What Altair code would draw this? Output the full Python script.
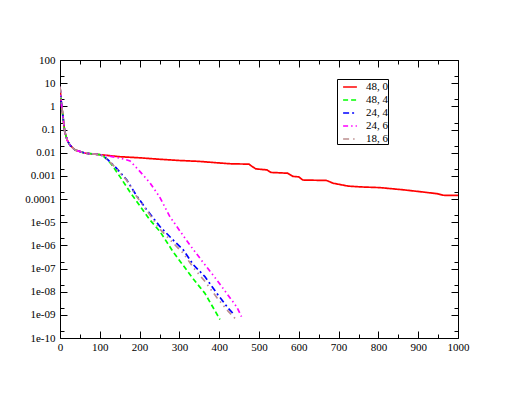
import altair as alt
import pandas as pd

series_names = ["48, 0", "48, 4", "24, 4", "24, 6", "18, 6"]
series_colors = ["#ff0000", "#00ff00", "#0000ff", "#ff00ff", "#bc8f8f"]
series_dashes = [[1, 0], [5, 3], [6, 3, 2, 3], [5, 3, 1.5, 3, 1.5, 3], [6, 4, 1.5, 4, 1.5, 4]]

# common initial part (all runs)
common_x = [0, 4, 8, 12, 18, 25, 38, 63, 100]
common_y = [7, 1.1, 0.3, 0.08, 0.035, 0.021, 0.013, 0.0095, 0.0082]

red_x = [150, 200, 250, 300, 350, 400, 430, 475, 483, 492, 520, 530, 572, 585, 600, 610, 670,
         686, 724, 760, 804, 862, 912, 947, 963, 1000]
red_y = [0.0067, 0.006, 0.0052, 0.0046, 0.0042, 0.0036, 0.0033, 0.0032, 0.0025, 0.002, 0.0018,
         0.0014, 0.0013, 0.00095, 0.0009, 0.00066, 0.00063, 0.00048, 0.00036, 0.00033, 0.00031,
         0.00025, 0.0002, 0.00017, 0.000145, 0.000142]

green_x = [110, 120, 130, 140, 151, 175, 201, 225, 251, 285, 318, 335, 364, 402]
green_y = [6.8e-3, 4.8e-3, 3.0e-3, 1.7e-3, 9e-4, 2.1e-4, 5e-5, 1.3e-5, 4e-6, 5e-7, 8.7e-8,
           3.5e-8, 8.5e-9, 6.3e-10]

blue_x = [110, 120, 140, 168, 190, 218, 251, 280, 310, 335, 364, 394, 423, 436]
blue_y = [7e-3, 5e-3, 2.3e-3, 6.6e-4, 1.6e-4, 3.4e-5, 6.5e-6, 2e-6, 6.3e-7, 1.45e-7, 4.5e-8,
          8.5e-9, 1.9e-9, 1.1e-9]

magenta_x = [130, 151, 165, 176, 200, 226, 250, 276, 302, 327, 360, 394, 420, 444, 456]
magenta_y = [6.8e-3, 5.8e-3, 5e-3, 4.4e-3, 1.6e-3, 5e-4, 1.25e-4, 1.75e-5, 4e-6, 1e-6, 1.8e-7,
             3.2e-8, 8e-9, 2.2e-9, 8.3e-10]

tan_x = [110, 120, 140, 168, 190, 218, 251, 280, 310, 335, 364, 394, 423, 440]
tan_y = [7e-3, 5e-3, 2.2e-3, 6.3e-4, 1.5e-4, 3.2e-5, 5e-6, 1.5e-6, 4.5e-7, 1.1e-7, 2.8e-8,
         5.6e-9, 1.4e-9, 7e-10]

x_major = [0, 100, 200, 300, 400, 500, 600, 700, 800, 900, 1000]
x_minor = [50, 150, 250, 350, 450, 550, 650, 750, 850, 950]
y_major = [1e-10, 1e-9, 1e-8, 1e-7, 1e-6, 1e-5, 1e-4, 1e-3, 1e-2, 1e-1, 1, 10, 100]
y_labels = ["1e-10", "1e-09", "1e-08", "1e-07", "1e-06", "1e-05", "0.0001", "0.001", "0.01",
            "0.1", "1", "10", "100"]
y_minor = [2e-10, 2e-9, 2e-8, 2e-7, 2e-6, 2e-5, 2e-4, 2e-3, 2e-2, 2e-1, 2, 20]

rows = []
for name, xs, ys in [
    (series_names[0], red_x, red_y),
    (series_names[1], green_x, green_y),
    (series_names[2], blue_x, blue_y),
    (series_names[3], magenta_x, magenta_y),
    (series_names[4], tan_x, tan_y),
]:
    for i, (a, b) in enumerate(zip(common_x + xs, common_y + ys)):
        rows.append({"x": a, "y": b, "s": name, "o": i})
df = pd.DataFrame(rows)

W, H = 398, 278
FONT = "Liberation Serif"
FS = 11

parts = []
for v, lab in zip(y_major, y_labels):
    parts.append(f"datum.value < {v * 3} ? '{lab}' : ")
label_expr = "".join(parts) + "''"

xscale = alt.Scale(domain=[0, 1000], nice=False, zero=False)
yscale = alt.Scale(type="log", domain=[1e-10, 100], nice=False)


def tick_axis(orient, values, size, offset):
    return alt.Axis(orient=orient, values=values, tickSize=size, labels=False, domain=False,
                    grid=False, title=None, offset=offset, tickColor="black", tickWidth=1)


main = alt.Chart(df).mark_line(strokeWidth=1.7, clip=True).encode(
    x=alt.X("x:Q", scale=xscale,
            axis=alt.Axis(orient="bottom", values=x_major, ticks=False, tickSize=0, domain=False,
                          grid=False, title=None, labelFont=FONT, labelFontSize=FS,
                          labelColor="black", labelPadding=3, labelFlush=False, format="d",
                          labelOverlap=False, labelBound=False)),
    y=alt.Y("y:Q", scale=yscale,
            axis=alt.Axis(orient="left", values=y_major, ticks=False, tickSize=0, domain=False,
                          grid=False, title=None, labelFont=FONT, labelFontSize=FS,
                          labelColor="black", labelPadding=5, labelExpr=label_expr,
                          labelOverlap=False, labelBound=False)),
    color=alt.Color("s:N", scale=alt.Scale(domain=series_names, range=series_colors),
                    legend=alt.Legend(orient="none", legendX=277, legendY=19, title=None,
                                      padding=0, symbolOffset=5, symbolType="stroke",
                                      symbolSize=190, symbolStrokeWidth=1.7, labelOffset=8,
                                      labelFont=FONT, labelFontSize=FS, labelColor="black",
                                      rowPadding=0, strokeColor="black", fillColor="white",
                                      labelExpr="datum.label + '\u00a0\u00a0'")),
    strokeDash=alt.StrokeDash("s:N", scale=alt.Scale(domain=series_names, range=series_dashes),
                              legend=None),
    order="o:Q",
)


def ghost(xax, yax):
    return alt.Chart(df).mark_point(opacity=0).encode(
        x=alt.X("x:Q", scale=xscale, axis=xax),
        y=alt.Y("y:Q", scale=yscale, axis=yax),
    )


layers = [
    main,
    ghost(tick_axis("top", x_major, 7, -H), tick_axis("right", y_major, 7, -W)),
    ghost(tick_axis("top", x_minor, 4, -H), tick_axis("right", y_minor, 4, -W)),
    ghost(tick_axis("bottom", x_major, 7, -H), tick_axis("left", y_major, 7, -W)),
    ghost(tick_axis("bottom", x_minor, 4, -H), tick_axis("left", y_minor, 4, -W)),
]

chart = alt.layer(*layers).resolve_axis(x="independent", y="independent").properties(
    width=W, height=H,
    autosize=alt.AutoSizeParams(type="none"),
    padding={"left": 52, "top": 52, "right": 40, "bottom": 40},
    background="white",
).configure(font=FONT).configure_axis(labelFont=FONT).configure_legend(
    labelFont=FONT
).configure_view(stroke="black", strokeWidth=1)

chart.save("out.html", embed_options={"renderer": "svg", "actions": False})
